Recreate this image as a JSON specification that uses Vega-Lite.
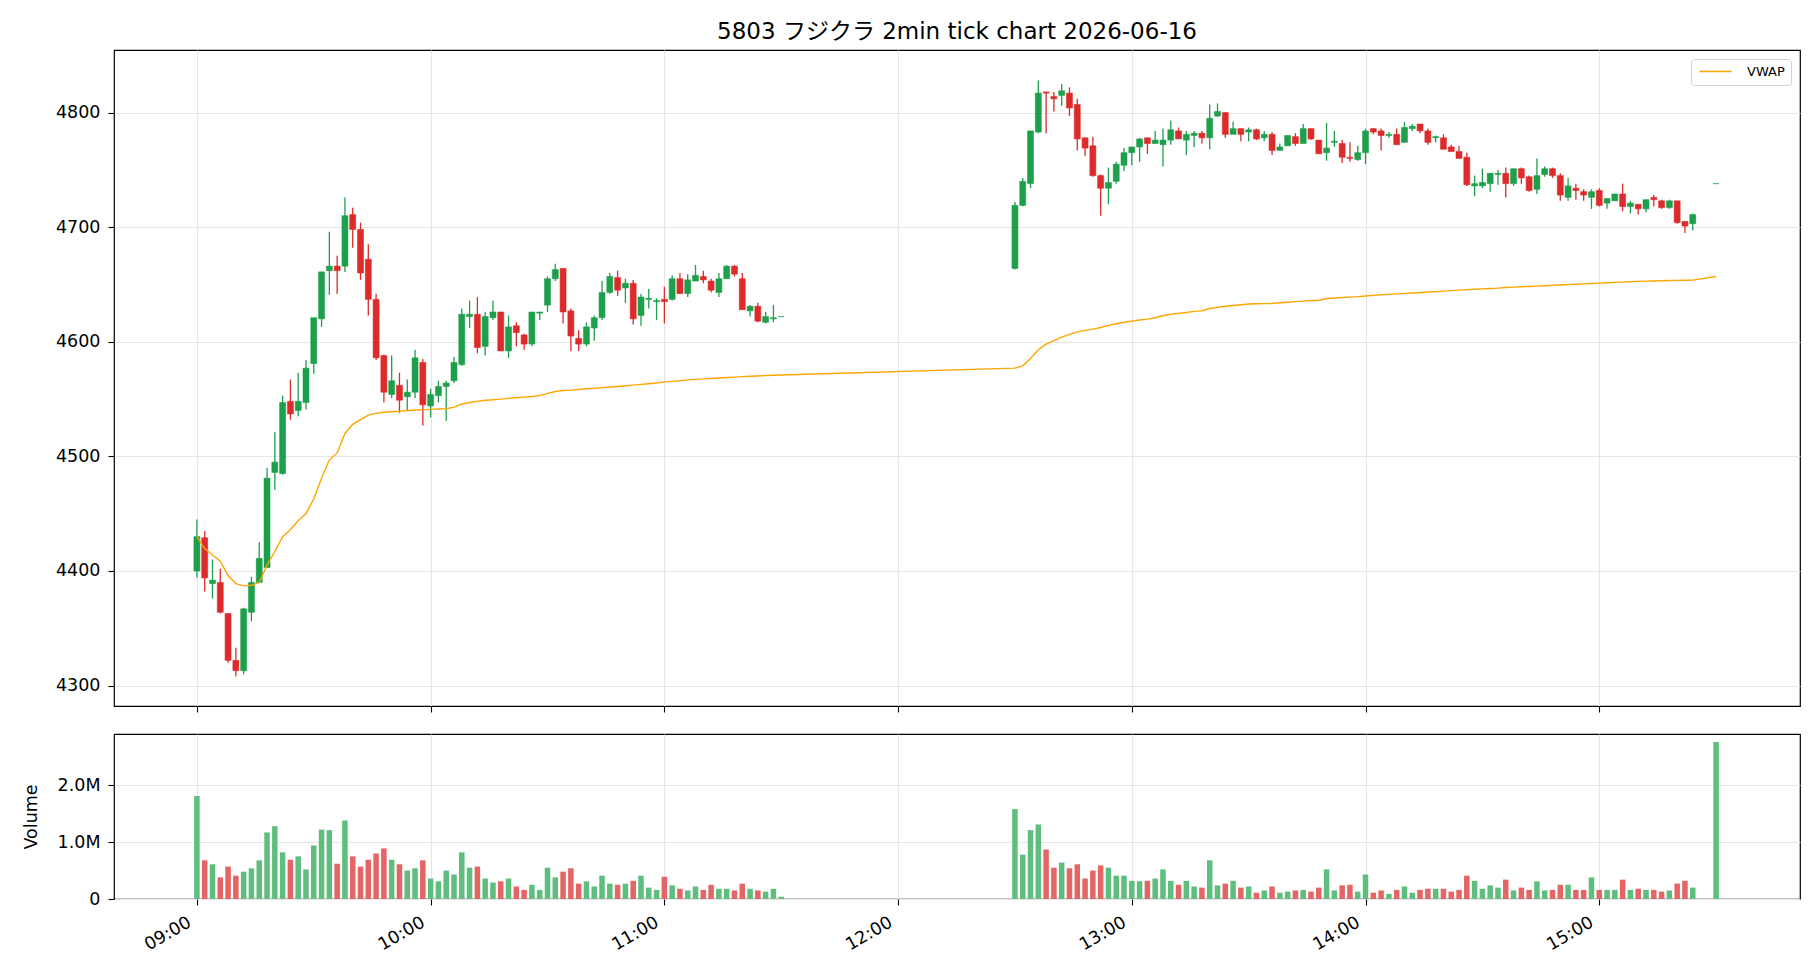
{
"$schema": "https://vega.github.io/schema/vega-lite/v6.json",
"background": "white",
"padding": {"left": 21, "top": 20, "right": 21, "bottom": 10},
"spacing": 28,
"bounds": "flush",
"config": {
  "font": "DejaVu Sans, Noto Sans CJK JP",
  "view": {"stroke": "#000000", "strokeWidth": 1.2},
  "axis": {"domain": false, "tickColor": "#000000", "tickSize": 6, "tickWidth": 1.1, "labelFontSize": 17.5, "labelColor": "#000000", "labelPadding": 8, "gridColor": "#e6e6e6", "gridWidth": 1.1, "titleFontSize": 17.5, "titleFontWeight": "normal", "titleColor": "#000000"},
  "title": {"fontSize": 23, "fontWeight": "normal", "color": "#000000"}
},
"datasets": {"d": [
{"t":"2026-06-16T09:00","o":4400,"h":4445,"l":4394,"c":4430,"v":1810000,"w":4430},
{"t":"2026-06-16T09:02","o":4429,"h":4435,"l":4382,"c":4394,"v":680000,"w":4419.5},
{"t":"2026-06-16T09:04","o":4389,"h":4410,"l":4376,"c":4392,"v":610000,"w":4414},
{"t":"2026-06-16T09:06","o":4390,"h":4402,"l":4363,"c":4364,"v":380000,"w":4408.5},
{"t":"2026-06-16T09:08","o":4363,"h":4363,"l":4320,"c":4322,"v":570000,"w":4396},
{"t":"2026-06-16T09:10","o":4322,"h":4333,"l":4308,"c":4313,"v":410000,"w":4389},
{"t":"2026-06-16T09:12","o":4313,"h":4368,"l":4310,"c":4367,"v":480000,"w":4387},
{"t":"2026-06-16T09:14","o":4364,"h":4395,"l":4356,"c":4390,"v":540000,"w":4387.5},
{"t":"2026-06-16T09:16","o":4390,"h":4425,"l":4390,"c":4411,"v":680000,"w":4390},
{"t":"2026-06-16T09:18","o":4403,"h":4490,"l":4403,"c":4481,"v":1170000,"w":4405},
{"t":"2026-06-16T09:20","o":4486,"h":4521,"l":4471,"c":4495,"v":1280000,"w":4417},
{"t":"2026-06-16T09:22","o":4485,"h":4553,"l":4484,"c":4547,"v":820000,"w":4430},
{"t":"2026-06-16T09:24","o":4548,"h":4567,"l":4532,"c":4537,"v":690000,"w":4436},
{"t":"2026-06-16T09:26","o":4540,"h":4573,"l":4535,"c":4548,"v":750000,"w":4444},
{"t":"2026-06-16T09:28","o":4547,"h":4584,"l":4541,"c":4577,"v":520000,"w":4450},
{"t":"2026-06-16T09:30","o":4581,"h":4621,"l":4572,"c":4621,"v":940000,"w":4463},
{"t":"2026-06-16T09:32","o":4620,"h":4661,"l":4613,"c":4661,"v":1220000,"w":4481},
{"t":"2026-06-16T09:34","o":4662,"h":4696,"l":4641,"c":4666,"v":1210000,"w":4497},
{"t":"2026-06-16T09:36","o":4666,"h":4675,"l":4642,"c":4662,"v":620000,"w":4503},
{"t":"2026-06-16T09:38","o":4666,"h":4726,"l":4661,"c":4710,"v":1380000,"w":4520},
{"t":"2026-06-16T09:40","o":4711,"h":4717,"l":4682,"c":4698,"v":750000,"w":4528},
{"t":"2026-06-16T09:42","o":4698,"h":4704,"l":4654,"c":4660,"v":570000,"w":4532},
{"t":"2026-06-16T09:44","o":4672,"h":4685,"l":4623,"c":4637,"v":690000,"w":4536},
{"t":"2026-06-16T09:46","o":4637,"h":4642,"l":4584,"c":4586,"v":800000,"w":4537.5},
{"t":"2026-06-16T09:48","o":4588,"h":4589,"l":4547,"c":4556,"v":890000,"w":4538.5},
{"t":"2026-06-16T09:50","o":4554,"h":4588,"l":4551,"c":4566,"v":690000,"w":4539},
{"t":"2026-06-16T09:52","o":4562,"h":4573,"l":4538,"c":4549,"v":610000,"w":4539.5},
{"t":"2026-06-16T09:54","o":4552,"h":4567,"l":4540,"c":4556,"v":500000,"w":4540},
{"t":"2026-06-16T09:56","o":4556,"h":4593,"l":4551,"c":4586,"v":540000,"w":4540.5},
{"t":"2026-06-16T09:58","o":4582,"h":4585,"l":4527,"c":4545,"v":680000,"w":4540.8},
{"t":"2026-06-16T10:00","o":4544,"h":4559,"l":4534,"c":4554,"v":360000,"w":4541},
{"t":"2026-06-16T10:02","o":4553,"h":4566,"l":4547,"c":4561,"v":310000,"w":4541.3},
{"t":"2026-06-16T10:04","o":4561,"h":4566,"l":4531,"c":4564,"v":500000,"w":4541.6},
{"t":"2026-06-16T10:06","o":4566,"h":4587,"l":4564,"c":4582,"v":430000,"w":4543},
{"t":"2026-06-16T10:08","o":4580,"h":4629,"l":4579,"c":4624,"v":820000,"w":4545.7},
{"t":"2026-06-16T10:10","o":4622,"h":4636,"l":4612,"c":4624,"v":550000,"w":4547},
{"t":"2026-06-16T10:12","o":4624,"h":4639,"l":4590,"c":4595,"v":570000,"w":4548},
{"t":"2026-06-16T10:14","o":4596,"h":4626,"l":4588,"c":4622,"v":360000,"w":4549},
{"t":"2026-06-16T10:16","o":4621,"h":4636,"l":4619,"c":4626,"v":290000,"w":4549.4},
{"t":"2026-06-16T10:18","o":4626,"h":4626,"l":4592,"c":4592,"v":310000,"w":4550},
{"t":"2026-06-16T10:20","o":4592,"h":4623,"l":4586,"c":4613,"v":360000,"w":4550.6},
{"t":"2026-06-16T10:22","o":4614,"h":4617,"l":4596,"c":4608,"v":220000,"w":4551.2},
{"t":"2026-06-16T10:24","o":4606,"h":4607,"l":4593,"c":4598,"v":160000,"w":4551.7},
{"t":"2026-06-16T10:26","o":4598,"h":4626,"l":4596,"c":4626,"v":250000,"w":4552.3},
{"t":"2026-06-16T10:28","o":4625,"h":4626,"l":4619,"c":4626,"v":160000,"w":4553},
{"t":"2026-06-16T10:30","o":4632,"h":4657,"l":4626,"c":4655,"v":550000,"w":4555},
{"t":"2026-06-16T10:32","o":4655,"h":4668,"l":4653,"c":4663,"v":380000,"w":4556.6},
{"t":"2026-06-16T10:34","o":4664,"h":4664,"l":4616,"c":4626,"v":480000,"w":4557.5},
{"t":"2026-06-16T10:36","o":4627,"h":4629,"l":4592,"c":4605,"v":540000,"w":4557.8},
{"t":"2026-06-16T10:38","o":4603,"h":4610,"l":4592,"c":4598,"v":270000,"w":4558.4},
{"t":"2026-06-16T10:40","o":4598,"h":4617,"l":4596,"c":4613,"v":310000,"w":4559},
{"t":"2026-06-16T10:42","o":4612,"h":4623,"l":4601,"c":4621,"v":220000,"w":4559.5},
{"t":"2026-06-16T10:44","o":4621,"h":4653,"l":4619,"c":4643,"v":410000,"w":4560},
{"t":"2026-06-16T10:46","o":4643,"h":4660,"l":4642,"c":4657,"v":270000,"w":4560.5},
{"t":"2026-06-16T10:48","o":4656,"h":4662,"l":4640,"c":4645,"v":250000,"w":4561},
{"t":"2026-06-16T10:50","o":4647,"h":4655,"l":4634,"c":4651,"v":270000,"w":4561.6},
{"t":"2026-06-16T10:52","o":4651,"h":4654,"l":4615,"c":4620,"v":320000,"w":4562.2},
{"t":"2026-06-16T10:54","o":4623,"h":4642,"l":4614,"c":4639,"v":410000,"w":4562.8},
{"t":"2026-06-16T10:56","o":4637,"h":4646,"l":4629,"c":4638,"v":200000,"w":4563.4},
{"t":"2026-06-16T10:58","o":4635,"h":4638,"l":4619,"c":4636,"v":160000,"w":4564},
{"t":"2026-06-16T11:00","o":4637,"h":4648,"l":4616,"c":4635,"v":390000,"w":4565},
{"t":"2026-06-16T11:02","o":4637,"h":4658,"l":4636,"c":4655,"v":240000,"w":4565.5},
{"t":"2026-06-16T11:04","o":4655,"h":4660,"l":4642,"c":4642,"v":180000,"w":4566},
{"t":"2026-06-16T11:06","o":4642,"h":4659,"l":4639,"c":4654,"v":150000,"w":4566.8},
{"t":"2026-06-16T11:08","o":4653,"h":4667,"l":4653,"c":4658,"v":220000,"w":4567.2},
{"t":"2026-06-16T11:10","o":4657,"h":4662,"l":4651,"c":4654,"v":160000,"w":4567.6},
{"t":"2026-06-16T11:12","o":4653,"h":4655,"l":4643,"c":4645,"v":250000,"w":4568},
{"t":"2026-06-16T11:14","o":4643,"h":4660,"l":4639,"c":4655,"v":180000,"w":4568.4},
{"t":"2026-06-16T11:16","o":4655,"h":4667,"l":4655,"c":4666,"v":180000,"w":4568.8},
{"t":"2026-06-16T11:18","o":4666,"h":4667,"l":4657,"c":4659,"v":150000,"w":4569.2},
{"t":"2026-06-16T11:20","o":4655,"h":4660,"l":4628,"c":4628,"v":270000,"w":4569.6},
{"t":"2026-06-16T11:22","o":4627,"h":4632,"l":4622,"c":4631,"v":180000,"w":4569.9},
{"t":"2026-06-16T11:24","o":4631,"h":4634,"l":4617,"c":4618,"v":150000,"w":4570.2},
{"t":"2026-06-16T11:26","o":4617,"h":4626,"l":4616,"c":4622,"v":130000,"w":4570.5},
{"t":"2026-06-16T11:28","o":4620,"h":4632,"l":4617,"c":4621,"v":180000,"w":4570.8},
{"t":"2026-06-16T11:30","o":4622,"h":4622,"l":4622,"c":4622,"v":40000,"w":4571},
{"t":"2026-06-16T12:30","o":4664,"h":4722,"l":4663,"c":4719,"v":1580000,"w":4577},
{"t":"2026-06-16T12:32","o":4719,"h":4743,"l":4718,"c":4740,"v":780000,"w":4579},
{"t":"2026-06-16T12:34","o":4738,"h":4784,"l":4734,"c":4784,"v":1210000,"w":4585.5},
{"t":"2026-06-16T12:36","o":4783,"h":4828,"l":4782,"c":4817,"v":1310000,"w":4593},
{"t":"2026-06-16T12:38","o":4818,"h":4818,"l":4782,"c":4817,"v":870000,"w":4598},
{"t":"2026-06-16T12:40","o":4814,"h":4818,"l":4801,"c":4812,"v":550000,"w":4601},
{"t":"2026-06-16T12:42","o":4815,"h":4825,"l":4806,"c":4819,"v":640000,"w":4604},
{"t":"2026-06-16T12:44","o":4817,"h":4822,"l":4797,"c":4804,"v":540000,"w":4606.4},
{"t":"2026-06-16T12:46","o":4807,"h":4812,"l":4767,"c":4777,"v":610000,"w":4608.7},
{"t":"2026-06-16T12:48","o":4778,"h":4778,"l":4762,"c":4769,"v":360000,"w":4610},
{"t":"2026-06-16T12:50","o":4771,"h":4779,"l":4744,"c":4745,"v":500000,"w":4611},
{"t":"2026-06-16T12:52","o":4745,"h":4746,"l":4710,"c":4734,"v":590000,"w":4612.5},
{"t":"2026-06-16T12:54","o":4734,"h":4752,"l":4720,"c":4739,"v":550000,"w":4614.3},
{"t":"2026-06-16T12:56","o":4740,"h":4757,"l":4738,"c":4755,"v":410000,"w":4615.7},
{"t":"2026-06-16T12:58","o":4754,"h":4769,"l":4749,"c":4765,"v":410000,"w":4617},
{"t":"2026-06-16T13:00","o":4765,"h":4770,"l":4754,"c":4770,"v":320000,"w":4618},
{"t":"2026-06-16T13:02","o":4770,"h":4778,"l":4757,"c":4777,"v":310000,"w":4619},
{"t":"2026-06-16T13:04","o":4778,"h":4778,"l":4764,"c":4773,"v":320000,"w":4619.8},
{"t":"2026-06-16T13:06","o":4773,"h":4784,"l":4773,"c":4776,"v":360000,"w":4621},
{"t":"2026-06-16T13:08","o":4772,"h":4786,"l":4753,"c":4776,"v":520000,"w":4622.7},
{"t":"2026-06-16T13:10","o":4776,"h":4793,"l":4772,"c":4785,"v":320000,"w":4624},
{"t":"2026-06-16T13:12","o":4784,"h":4787,"l":4777,"c":4777,"v":250000,"w":4624.8},
{"t":"2026-06-16T13:14","o":4776,"h":4784,"l":4763,"c":4781,"v":320000,"w":4625.6},
{"t":"2026-06-16T13:16","o":4780,"h":4784,"l":4770,"c":4782,"v":220000,"w":4626.5},
{"t":"2026-06-16T13:18","o":4782,"h":4784,"l":4773,"c":4778,"v":200000,"w":4627},
{"t":"2026-06-16T13:20","o":4778,"h":4807,"l":4768,"c":4795,"v":680000,"w":4629},
{"t":"2026-06-16T13:22","o":4797,"h":4808,"l":4796,"c":4801,"v":240000,"w":4630},
{"t":"2026-06-16T13:24","o":4800,"h":4800,"l":4778,"c":4781,"v":270000,"w":4631},
{"t":"2026-06-16T13:26","o":4781,"h":4792,"l":4781,"c":4786,"v":320000,"w":4631.7},
{"t":"2026-06-16T13:28","o":4786,"h":4786,"l":4775,"c":4781,"v":200000,"w":4632.3},
{"t":"2026-06-16T13:30","o":4783,"h":4787,"l":4775,"c":4785,"v":220000,"w":4633},
{"t":"2026-06-16T13:32","o":4785,"h":4786,"l":4776,"c":4777,"v":110000,"w":4633.2},
{"t":"2026-06-16T13:34","o":4778,"h":4784,"l":4775,"c":4781,"v":150000,"w":4633.3},
{"t":"2026-06-16T13:36","o":4781,"h":4783,"l":4763,"c":4767,"v":220000,"w":4633.4},
{"t":"2026-06-16T13:38","o":4767,"h":4773,"l":4767,"c":4770,"v":110000,"w":4634},
{"t":"2026-06-16T13:40","o":4771,"h":4780,"l":4771,"c":4780,"v":130000,"w":4634.5},
{"t":"2026-06-16T13:42","o":4779,"h":4782,"l":4771,"c":4773,"v":150000,"w":4635},
{"t":"2026-06-16T13:44","o":4773,"h":4790,"l":4773,"c":4786,"v":160000,"w":4635.5},
{"t":"2026-06-16T13:46","o":4786,"h":4786,"l":4776,"c":4777,"v":130000,"w":4636},
{"t":"2026-06-16T13:48","o":4776,"h":4776,"l":4764,"c":4764,"v":200000,"w":4636.3},
{"t":"2026-06-16T13:50","o":4765,"h":4791,"l":4758,"c":4769,"v":520000,"w":4637.8},
{"t":"2026-06-16T13:52","o":4774,"h":4784,"l":4770,"c":4775,"v":150000,"w":4638.2},
{"t":"2026-06-16T13:54","o":4773,"h":4776,"l":4756,"c":4761,"v":240000,"w":4638.6},
{"t":"2026-06-16T13:56","o":4761,"h":4774,"l":4757,"c":4760,"v":250000,"w":4639},
{"t":"2026-06-16T13:58","o":4759,"h":4771,"l":4758,"c":4765,"v":130000,"w":4639.4},
{"t":"2026-06-16T14:00","o":4765,"h":4786,"l":4755,"c":4784,"v":430000,"w":4640},
{"t":"2026-06-16T14:02","o":4786,"h":4786,"l":4781,"c":4783,"v":110000,"w":4640.5},
{"t":"2026-06-16T14:04","o":4784,"h":4786,"l":4767,"c":4780,"v":150000,"w":4641},
{"t":"2026-06-16T14:06","o":4780,"h":4783,"l":4778,"c":4781,"v":90000,"w":4641.4},
{"t":"2026-06-16T14:08","o":4781,"h":4786,"l":4772,"c":4772,"v":160000,"w":4641.8},
{"t":"2026-06-16T14:10","o":4774,"h":4792,"l":4774,"c":4787,"v":220000,"w":4642.2},
{"t":"2026-06-16T14:12","o":4786,"h":4790,"l":4784,"c":4788,"v":110000,"w":4642.6},
{"t":"2026-06-16T14:14","o":4790,"h":4790,"l":4782,"c":4784,"v":160000,"w":4643},
{"t":"2026-06-16T14:16","o":4784,"h":4786,"l":4772,"c":4774,"v":180000,"w":4643.4},
{"t":"2026-06-16T14:18","o":4778,"h":4780,"l":4774,"c":4779,"v":180000,"w":4643.8},
{"t":"2026-06-16T14:20","o":4778,"h":4781,"l":4768,"c":4768,"v":180000,"w":4644.2},
{"t":"2026-06-16T14:22","o":4770,"h":4772,"l":4766,"c":4766,"v":130000,"w":4644.6},
{"t":"2026-06-16T14:24","o":4766,"h":4771,"l":4760,"c":4760,"v":160000,"w":4645.1},
{"t":"2026-06-16T14:26","o":4761,"h":4765,"l":4736,"c":4737,"v":410000,"w":4645.5},
{"t":"2026-06-16T14:28","o":4736,"h":4745,"l":4727,"c":4738,"v":320000,"w":4645.9},
{"t":"2026-06-16T14:30","o":4736,"h":4751,"l":4734,"c":4739,"v":180000,"w":4646.2},
{"t":"2026-06-16T14:32","o":4738,"h":4747,"l":4731,"c":4747,"v":240000,"w":4646.5},
{"t":"2026-06-16T14:34","o":4746,"h":4750,"l":4737,"c":4747,"v":200000,"w":4646.8},
{"t":"2026-06-16T14:36","o":4747,"h":4752,"l":4726,"c":4738,"v":340000,"w":4647.4},
{"t":"2026-06-16T14:38","o":4738,"h":4751,"l":4736,"c":4751,"v":150000,"w":4647.7},
{"t":"2026-06-16T14:40","o":4751,"h":4752,"l":4738,"c":4743,"v":200000,"w":4648},
{"t":"2026-06-16T14:42","o":4744,"h":4745,"l":4731,"c":4732,"v":160000,"w":4648.3},
{"t":"2026-06-16T14:44","o":4733,"h":4760,"l":4729,"c":4745,"v":310000,"w":4648.6},
{"t":"2026-06-16T14:46","o":4746,"h":4753,"l":4744,"c":4751,"v":150000,"w":4648.9},
{"t":"2026-06-16T14:48","o":4751,"h":4752,"l":4743,"c":4745,"v":160000,"w":4649.2},
{"t":"2026-06-16T14:50","o":4745,"h":4747,"l":4723,"c":4728,"v":250000,"w":4649.5},
{"t":"2026-06-16T14:52","o":4726,"h":4743,"l":4723,"c":4736,"v":250000,"w":4649.9},
{"t":"2026-06-16T14:54","o":4734,"h":4738,"l":4724,"c":4732,"v":160000,"w":4650.2},
{"t":"2026-06-16T14:56","o":4731,"h":4733,"l":4723,"c":4728,"v":160000,"w":4650.5},
{"t":"2026-06-16T14:58","o":4726,"h":4733,"l":4716,"c":4731,"v":380000,"w":4650.9},
{"t":"2026-06-16T15:00","o":4732,"h":4734,"l":4718,"c":4719,"v":160000,"w":4651.2},
{"t":"2026-06-16T15:02","o":4721,"h":4725,"l":4716,"c":4725,"v":160000,"w":4651.5},
{"t":"2026-06-16T15:04","o":4723,"h":4729,"l":4723,"c":4729,"v":160000,"w":4651.8},
{"t":"2026-06-16T15:06","o":4729,"h":4738,"l":4714,"c":4718,"v":340000,"w":4652.1},
{"t":"2026-06-16T15:08","o":4718,"h":4723,"l":4712,"c":4721,"v":160000,"w":4652.4},
{"t":"2026-06-16T15:10","o":4720,"h":4720,"l":4711,"c":4716,"v":180000,"w":4652.7},
{"t":"2026-06-16T15:12","o":4716,"h":4724,"l":4713,"c":4724,"v":160000,"w":4652.9},
{"t":"2026-06-16T15:14","o":4726,"h":4728,"l":4718,"c":4724,"v":160000,"w":4653.1},
{"t":"2026-06-16T15:16","o":4723,"h":4724,"l":4716,"c":4717,"v":130000,"w":4653.3},
{"t":"2026-06-16T15:18","o":4717,"h":4724,"l":4716,"c":4723,"v":150000,"w":4653.5},
{"t":"2026-06-16T15:20","o":4723,"h":4723,"l":4703,"c":4704,"v":270000,"w":4653.6},
{"t":"2026-06-16T15:22","o":4705,"h":4705,"l":4695,"c":4701,"v":320000,"w":4653.7},
{"t":"2026-06-16T15:24","o":4703,"h":4712,"l":4697,"c":4711,"v":200000,"w":4653.8},
{"t":"2026-06-16T15:30","o":4738,"h":4738,"l":4738,"c":4738,"v":2760000,"w":4657}
]},
"vconcat": [
{
  "width": 1686, "height": 656,
  "title": {"text": "5803 フジクラ 2min tick chart 2026-06-16", "anchor": "middle", "frame": "group", "offset": 6},
  "data": {"name": "d"},
  "encoding": {
    "x": {"field": "t", "type": "temporal",
      "scale": {"domain": [{"year":2026,"month":6,"date":16,"hours":8,"minutes":40,"seconds":0},{"year":2026,"month":6,"date":16,"hours":15,"minutes":50,"seconds":15}]},
      "axis": {"labels": false, "title": null, "grid": true,
        "values": [{"year":2026,"month":6,"date":16,"hours":9},{"year":2026,"month":6,"date":16,"hours":10},{"year":2026,"month":6,"date":16,"hours":11},{"year":2026,"month":6,"date":16,"hours":12},{"year":2026,"month":6,"date":16,"hours":13},{"year":2026,"month":6,"date":16,"hours":14},{"year":2026,"month":6,"date":16,"hours":15}]}}
  },
  "layer": [
    {"mark": {"type": "rule", "strokeWidth": 1.3},
     "encoding": {
       "y": {"field": "l", "type": "quantitative", "scale": {"domain": [4282.2, 4854.6], "nice": false, "zero": false},
         "axis": {"title": null, "grid": true, "format": "d", "values": [4300,4400,4500,4600,4700,4800], "minExtent": 52, "maxExtent": 52}},
       "y2": {"field": "h"},
       "color": {"condition": {"test": "datum.c >= datum.o", "value": "#1d9f4c"}, "value": "#dd2a2a"}
     }},
    {"mark": {"type": "bar", "size": 6, "strokeWidth": 1, "strokeOpacity": 0.55},
     "encoding": {
       "y": {"field": "o", "type": "quantitative"},
       "y2": {"field": "c"},
       "fill": {"condition": {"test": "datum.c >= datum.o", "value": "#1d9f4c"}, "value": "#dd2a2a"},
       "stroke": {"condition": {"test": "datum.c >= datum.o", "value": "#1d9f4c"}, "value": "#dd2a2a"}
     }},
    {"mark": {"type": "line", "strokeWidth": 1.4},
     "encoding": {
       "y": {"field": "w", "type": "quantitative"},
       "color": {"datum": "VWAP", "type": "nominal",
         "scale": {"domain": ["VWAP"], "range": ["#ffa500"]},
         "legend": {"title": null, "orient": "top-right", "offset": 9, "symbolType": "M-1,0h8", "symbolSize": 64, "symbolStrokeWidth": 1.5, "labelFontSize": 13, "labelColor": "#000000", "labelOffset": 37, "fillColor": "white", "strokeColor": "#d0d0d0", "cornerRadius": 3, "padding": 6}}
     }}
  ]
},
{
  "width": 1686, "height": 165,
  "data": {"name": "d"},
  "mark": {"type": "bar", "size": 5.5},
  "encoding": {
    "x": {"field": "t", "type": "temporal",
      "scale": {"domain": [{"year":2026,"month":6,"date":16,"hours":8,"minutes":40,"seconds":0},{"year":2026,"month":6,"date":16,"hours":15,"minutes":50,"seconds":15}]},
      "axis": {"title": null, "grid": true, "format": "%H:%M", "labelAngle": -30, "labelAlign": "right", "labelBaseline": "top", "labelOffset": -12,
        "values": [{"year":2026,"month":6,"date":16,"hours":9},{"year":2026,"month":6,"date":16,"hours":10},{"year":2026,"month":6,"date":16,"hours":11},{"year":2026,"month":6,"date":16,"hours":12},{"year":2026,"month":6,"date":16,"hours":13},{"year":2026,"month":6,"date":16,"hours":14},{"year":2026,"month":6,"date":16,"hours":15}]}},
    "y": {"field": "v", "type": "quantitative", "scale": {"domain": [0, 2900000], "nice": false},
      "axis": {"title": "Volume", "grid": true, "values": [0, 1000000, 2000000], "labelExpr": "datum.value == 0 ? '0' : format(datum.value / 1000000, '.1f') + 'M'", "minExtent": 52, "maxExtent": 52, "titlePadding": 22}},
    "color": {"condition": {"test": "datum.c >= datum.o", "value": "#5fbd7e"}, "value": "#e56464"}
  }
}
]
}
